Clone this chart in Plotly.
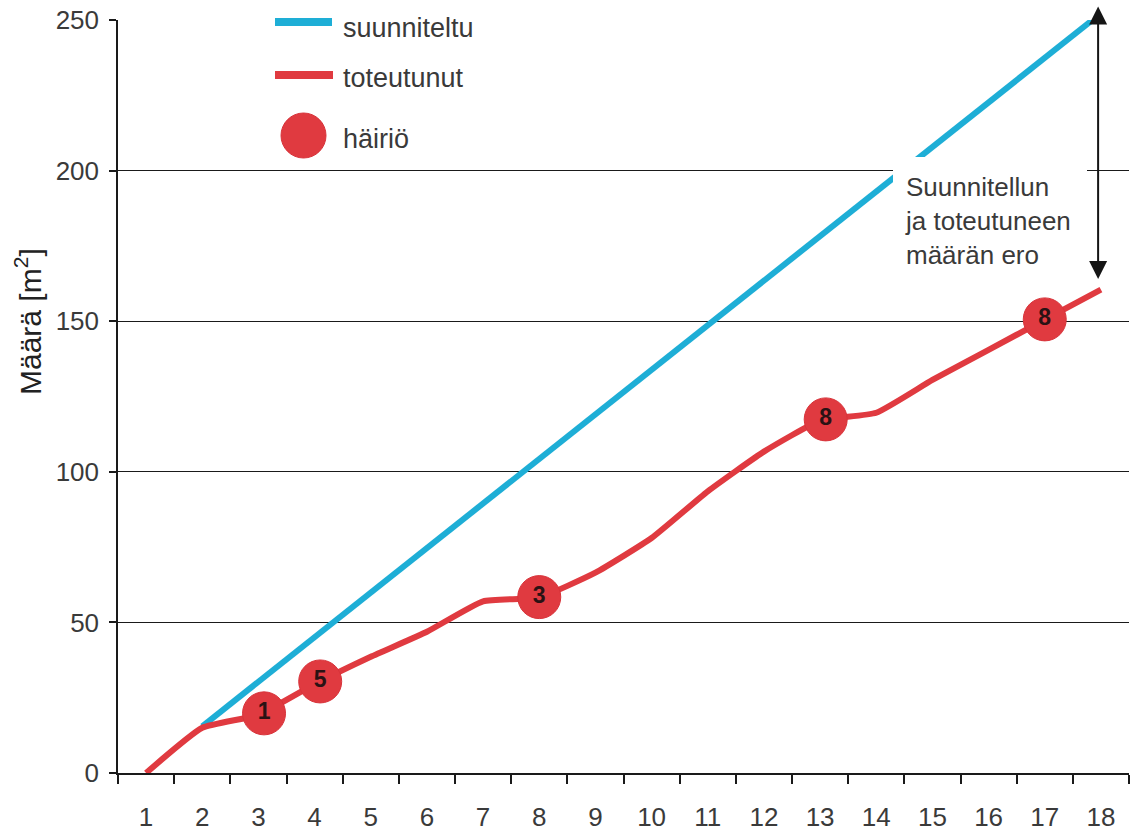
import plotly.graph_objects as go

# ---------------- data ----------------
periods = list(range(1, 19))
tick_labels = [str(p) for p in periods]

planned_x = [2, 17.85]
planned_y = [15.5, 250]

actual_x = list(range(1, 19))
actual_y = [0, 15, 19.3, 29.5, 38.6, 46.9, 57, 58.3, 66.5, 78, 93.5,
            106.7, 117, 119.6, 130.5, 140.5, 150.5, 160.5]

disturb_x = [3.1, 4.1, 8.0, 13.1, 17.0]
disturb_y = [19.8, 30.4, 58.4, 117.4, 150.6]
disturb_counts = ["1", "5", "3", "8", "8"]

gap_x = 17.95
gap_top = 255
gap_bottom = 164

y_ticks = [0, 50, 100, 150, 200, 250]

# ---------------- style ----------------
BLUE = "#1eaed6"
RED = "#e03a40"
TXT = "#3a3a3a"
FONT = "Liberation Sans, Arial, sans-serif"

W, H = 1135, 834
L, R, T, B = 118, 6, 20, 61


def px(x):
    return (x - L) / (W - L - R)


def py(y):
    return (H - B - y) / (H - T - B)


fig = go.Figure()

fig.add_trace(go.Scatter(
    x=planned_x, y=planned_y, mode="lines",
    line=dict(color=BLUE, width=6), cliponaxis=False, showlegend=False,
    name="suunniteltu"))

fig.add_trace(go.Scatter(
    x=actual_x, y=actual_y, mode="lines",
    line=dict(color=RED, width=6, shape="spline", smoothing=0.45),
    cliponaxis=False, showlegend=False, name="toteutunut"))

fig.add_trace(go.Scatter(
    x=disturb_x, y=disturb_y, mode="markers+text", text=disturb_counts,
    textposition="middle center",
    textfont=dict(family=FONT, size=23, color="#2a1214", weight="bold"),
    marker=dict(size=43, color=RED, line=dict(color="#d8333a", width=1)),
    cliponaxis=False, showlegend=False, name="häiriö"))

shapes = [
    # legend background (covers grid line)
    dict(type="rect", xref="paper", yref="paper", x0=px(257), x1=px(497),
         y0=py(165), y1=py(0), fillcolor="white", line=dict(width=0), layer="above"),
    # annotation text background
    dict(type="rect", xref="paper", yref="paper", x0=px(893), x1=px(1087),
         y0=py(275), y1=py(157), fillcolor="white", line=dict(width=0), layer="above"),
    # legend samples
    dict(type="line", xref="paper", yref="paper", x0=px(275), x1=px(332),
         y0=py(22), y1=py(22), line=dict(color=BLUE, width=8), layer="above"),
    dict(type="line", xref="paper", yref="paper", x0=px(275), x1=px(333),
         y0=py(75), y1=py(75), line=dict(color=RED, width=8), layer="above"),
    dict(type="circle", xref="paper", yref="paper", x0=px(281), x1=px(326),
         y0=py(158), y1=py(113), fillcolor=RED, line=dict(color="#d8333a", width=1),
         layer="above"),
]

annotations = [
    dict(xref="paper", yref="paper", x=px(341), y=py(28), xanchor="left",
         yanchor="middle", text="suunniteltu", showarrow=False,
         font=dict(family=FONT, size=27, color=TXT)),
    dict(xref="paper", yref="paper", x=px(341), y=py(78), xanchor="left",
         yanchor="middle", text="toteutunut", showarrow=False,
         font=dict(family=FONT, size=27, color=TXT)),
    dict(xref="paper", yref="paper", x=px(341), y=py(139), xanchor="left",
         yanchor="middle", text="häiriö", showarrow=False,
         font=dict(family=FONT, size=27, color=TXT)),
    dict(xref="paper", yref="paper", x=px(903), y=py(221), xanchor="left",
         yanchor="middle", align="left",
         text="Suunnitellun<br>ja toteutuneen<br>määrän ero", showarrow=False,
         font=dict(family=FONT, size=26, color=TXT)),
    dict(xref="paper", yref="paper", x=px(28), y=py(322), xanchor="center",
         yanchor="middle", textangle=-90, text="Määrä [m<sup>2</sup>]",
         showarrow=False, font=dict(family=FONT, size=30, color="#222222")),
    dict(xref="x", yref="y", axref="x", ayref="y",
         x=gap_x, y=gap_bottom, ax=gap_x, ay=gap_top, text="",
         showarrow=True, arrowside="end+start", arrowhead=2, startarrowhead=2,
         arrowsize=1.8, startarrowsize=1.8, arrowwidth=2, arrowcolor="#151515",
         standoff=0, startstandoff=0),
]

fig.update_layout(
    width=W, height=H,
    margin=dict(l=L, r=R, t=T, b=B, autoexpand=False),
    paper_bgcolor="white", plot_bgcolor="white",
    showlegend=False,
    shapes=shapes, annotations=annotations,
    font=dict(family=FONT, color=TXT),
)

fig.update_xaxes(
    range=[0.5, 18.5], tickvals=periods, ticktext=tick_labels,
    ticks="", showgrid=False, zeroline=False, automargin=False,
    showline=True, linecolor="#1a1a1a", linewidth=1.5,
    tickfont=dict(family=FONT, size=26, color=TXT),
    ticklabelstandoff=20,
    minor=dict(tickvals=[p - 0.5 for p in periods] + [18.5], ticks="outside",
               ticklen=9, tickcolor="#1a1a1a", tickwidth=1.5, showgrid=False),
)

fig.update_yaxes(
    range=[0, 250], tickvals=y_ticks, ticks="outside", ticklen=7,
    tickcolor="#1a1a1a", tickwidth=1.5, automargin=False,
    showgrid=True, gridcolor="#1a1a1a", gridwidth=1.2, zeroline=False,
    showline=True, linecolor="#1a1a1a", linewidth=1.5,
    tickfont=dict(family=FONT, size=26, color=TXT),
    ticklabelstandoff=5,
)

fig.write_html("out.html")
